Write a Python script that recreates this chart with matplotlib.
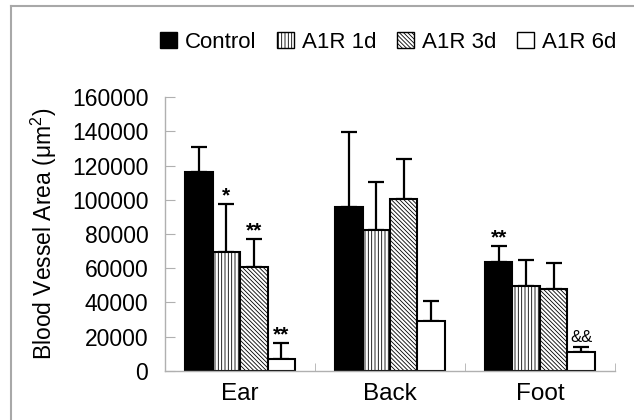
import numpy as np
import matplotlib.pyplot as plt
from matplotlib.patches import Patch
from matplotlib.lines import Line2D

plt.rcParams['font.family'] = ['Liberation Sans', 'DejaVu Sans']
plt.rcParams['mathtext.fontset'] = 'custom'
plt.rcParams['mathtext.rm'] = 'Liberation Sans'
plt.rcParams['hatch.linewidth'] = 0.6

# Data
sites = ['Ear', 'Back', 'Foot']
groups = ['Control', 'A1R 1d', 'A1R 3d', 'A1R 6d']
means = {
    'Control': [116000, 95500, 63800],
    'A1R 1d': [69500, 82300, 49800],
    'A1R 3d': [60800, 100300, 47900],
    'A1R 6d': [7200, 29200, 10900],
}
errors = {
    'Control': [15000, 44000, 9000],
    'A1R 1d': [28000, 28000, 15000],
    'A1R 3d': [16000, 23500, 15000],
    'A1R 6d': [9000, 11700, 3300],
}
marks = {
    'Control': ['', '', '**'],
    'A1R 1d': ['*', '', ''],
    'A1R 3d': ['**', '', ''],
    'A1R 6d': ['**', '', '&&'],
}

faces = ['black', 'white', 'white', 'white']
hatches = [None, '|||||', '\\\\\\\\\\\\\\\\', None]

fig = plt.figure(figsize=(6.34, 4.20), dpi=100)
ax = fig.add_axes([0.2603, 0.1167, 0.7097, 0.6523])

x = np.arange(len(sites))
width = 0.1833
offsets = (np.arange(4) - 1.5) * width

for i, g in enumerate(groups):
    xs = x + offsets[i]
    ax.bar(xs, means[g], width, color=faces[i], edgecolor='black',
           linewidth=1.5, hatch=hatches[i], zorder=2)
    # one-sided error bars (upper only)
    ax.errorbar(xs, means[g], yerr=[np.zeros(3), errors[g]], fmt='none',
                ecolor='black', elinewidth=1.6, capsize=6, capthick=1.6,
                zorder=1)
    for xi, m, e, s in zip(xs, means[g], errors[g], marks[g]):
        if s == '&&':
            ax.text(xi, m + e + 1000, s, ha='center', va='bottom', fontsize=12)
        elif s:
            ax.text(xi, m + e - 500, s, ha='center', va='bottom',
                    fontsize=15, fontweight='bold')

ax.set_xlim(-0.5, 2.5)
ax.set_ylim(0, 160000)
ax.set_yticks(np.arange(0, 160001, 20000))
ax.set_xticks(x)
ax.set_xticklabels(sites, fontsize=17.5)
ax.set_xticks([0.5, 1.5, 2.5], minor=True)
ax.tick_params(axis='y', direction='in', length=7, color='#b0b0b0',
               labelsize=16.5, pad=12)
ax.tick_params(axis='x', which='major', length=0, pad=9)
ax.tick_params(axis='x', which='minor', direction='in', length=6,
               color='#b0b0b0')
for s in ['top', 'right']:
    ax.spines[s].set_visible(False)
for s in ['left', 'bottom']:
    ax.spines[s].set_color('#b0b0b0')
    ax.spines[s].set_linewidth(1.0)

ax.set_ylabel('Blood Vessel Area (\u03bcm$^2$)', fontsize=16.5, labelpad=9)

# Legend
handles = [Patch(facecolor=faces[i], edgecolor='black', hatch=hatches[i],
                 linewidth=1.0) for i in range(4)]
fig.legend(handles, groups, loc='center', bbox_to_anchor=(0.612, 0.9),
           ncol=4, frameon=False, fontsize=16, handlelength=0.75,
           handleheight=0.75, handletextpad=0.35, columnspacing=0.95)

# Frame lines of the original figure panel
fig.add_artist(Line2D([11 / 634, 11 / 634], [0, 1 - 6 / 420],
                      color='#a8a8a8', linewidth=1.5, transform=fig.transFigure))
fig.add_artist(Line2D([11 / 634, 1], [1 - 6 / 420, 1 - 6 / 420],
                      color='#a8a8a8', linewidth=1.5, transform=fig.transFigure))

fig.savefig('out.png', dpi=100)
